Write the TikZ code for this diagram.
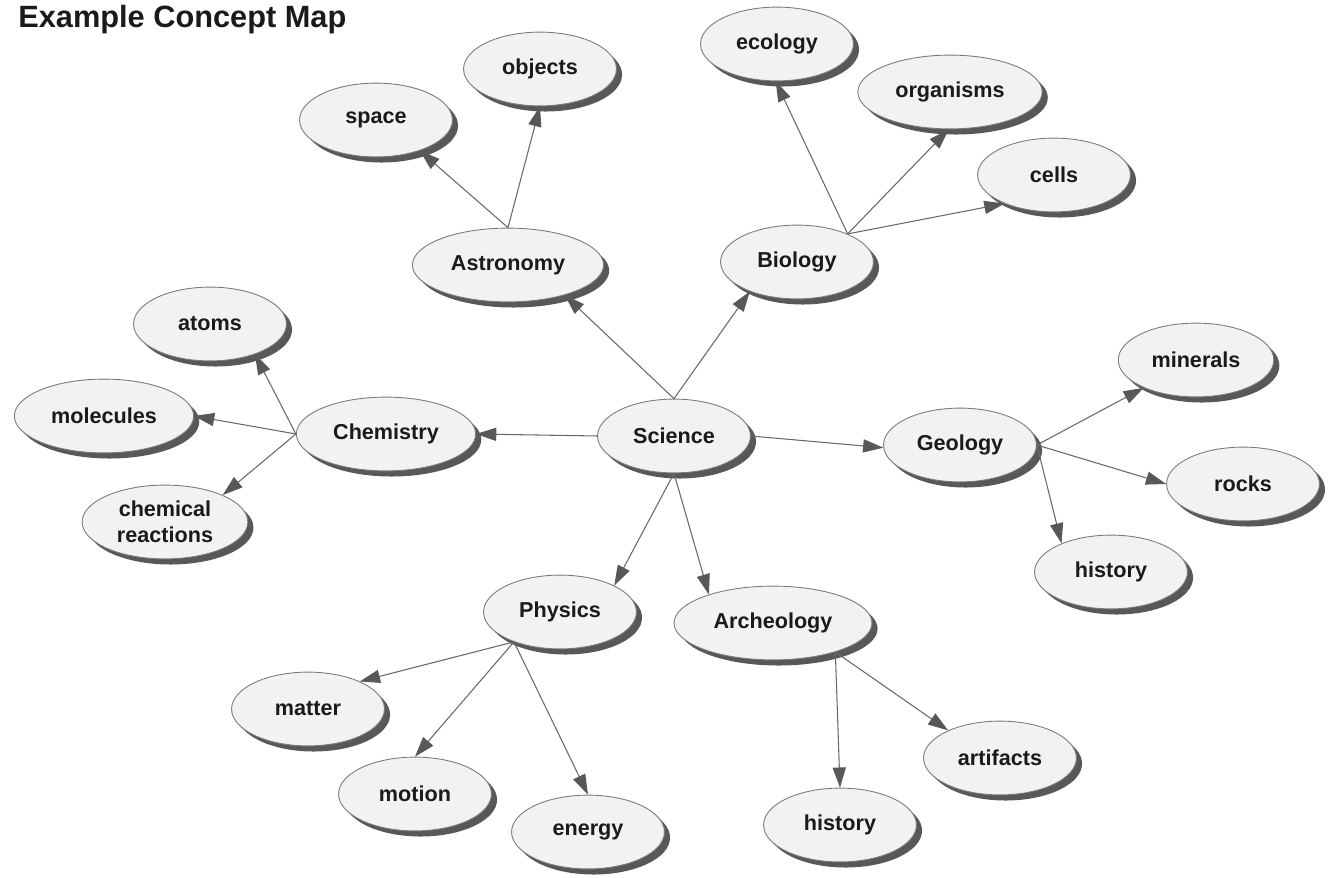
\documentclass[tikz,border=0pt]{standalone}
\usepackage{fontspec}
\setmainfont{Liberation Sans}
\usetikzlibrary{shapes.geometric,shadows,arrows.meta}
\definecolor{bubble}{HTML}{F2F2F2}
\definecolor{rim}{HTML}{7A7A7A}
\definecolor{shade}{HTML}{585858}
\definecolor{wire}{HTML}{686868}
\definecolor{ink}{HTML}{1A1A1A}
\tikzset{
  concept/.style={ellipse,draw=rim,line width=0.5pt,fill=bubble,text=ink,
    font=\bfseries\fontsize{12.3}{14.5}\selectfont,align=center,
    inner xsep=6pt,inner ysep=1.5pt,minimum width=87pt,minimum height=42pt,
    drop shadow={shadow xshift=3.2pt,shadow yshift=-3.2pt,fill=shade,opacity=1}},
  link/.style={draw=wire,line width=0.6pt,
    -{Triangle[length=11.5pt,width=7.5pt,color=shade]}},
  heading/.style={text=ink,font=\bfseries\fontsize{17.5}{20}\selectfont,inner sep=0pt}
}

\begin{document}
\begin{tikzpicture}[x=0.02cm,y=-0.02cm]
  \useasboundingbox (0,0) rectangle (1333,878);% pixel frame of the map

  \node[heading,anchor=base west] (title) at (18,28) {Example Concept Map};

  % centre and main branches
  \node[concept] (sci)  at (674,436) {Science};
  \node[concept] (ast)  at (508,265) {Astronomy};
  \node[concept] (bio)  at (797,262) {Biology};
  \node[concept] (chem) at (386,434) {Chemistry};
  \node[concept] (geo)  at (960,445) {Geology};
  \node[concept] (phys) at (560,612) {Physics};
  \node[concept] (arch) at (773,623) {Archeology};

  % leaves
  \node[concept] (space)     at (376,120)  {space};
  \node[concept] (objects)   at (540,69)   {objects};
  \node[concept] (ecology)   at (777,44)   {ecology};
  \node[concept] (organisms) at (950,92)   {organisms};
  \node[concept] (cells)     at (1054,175) {cells};
  \node[concept] (atoms)     at (210,324)  {atoms};
  \node[concept] (molecules) at (104,416)  {molecules};
  \node[concept] (reactions) at (165,522)  {chemical\\reactions};
  \node[concept] (minerals)  at (1196,360) {minerals};
  \node[concept] (rocks)     at (1243,484) {rocks};
  \node[concept] (geohist)   at (1111,572) {history};
  \node[concept] (matter)    at (308,709)  {matter};
  \node[concept] (motion)    at (415,794)  {motion};
  \node[concept] (energy)    at (588,832)  {energy};
  \node[concept] (archhist)  at (840,825)  {history};
  \node[concept] (artifacts) at (1000,758) {artifacts};

  % connectors, source anchor / target anchor
  \foreach \src/\dst in {sci.north/ast.332, sci.north/bio.212,
      sci.west/chem.east, sci.east/geo.182,
      sci.south/phys.26, sci.south/arch.156,
      ast.north/space.325, ast.north/objects.south,
      bio.29/ecology.268, bio.29/organisms.268, bio.29/cells.210,
      chem.west/atoms.326, chem.west/molecules.east, chem.west/reactions.25,
      geo.east/minerals.208, geo.east/rocks.west, geo.east/geohist.150,
      phys.213/matter.28, phys.213/motion.north, phys.213/energy.north,
      arch.335/archhist.north, arch.335/artifacts.152}{
    \draw[link] (\src) -- (\dst);
  }
\end{tikzpicture}
\end{document}
